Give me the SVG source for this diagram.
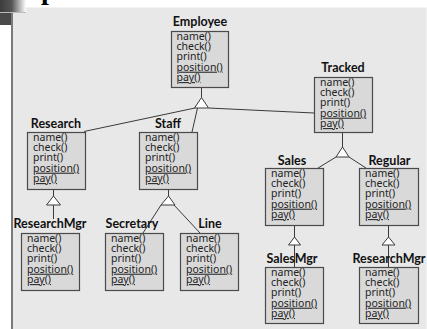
<svg xmlns="http://www.w3.org/2000/svg" width="427" height="329" viewBox="0 0 427 329">
<defs>
<linearGradient id="tl" x1="0" y1="0" x2="1" y2="0">
<stop offset="0" stop-color="#3c3c3c"/>
<stop offset="0.45" stop-color="#555"/>
<stop offset="1" stop-color="#ffffff"/>
</linearGradient>
<style>
.box{fill:#d9d9d9;stroke:#4a4a4a;stroke-width:1.2}
.lbl{font-family:Lato,"DejaVu Sans",sans-serif;font-weight:bold;font-size:12.5px;fill:#111;text-anchor:middle}
.m{font-family:"Noto Sans","DejaVu Sans",sans-serif;font-size:10.5px;fill:#222}
.u{text-decoration:underline}
.c{stroke:#3a3a3a;stroke-width:1;fill:none}
.tri{fill:#ffffff;stroke:#3a3a3a;stroke-width:1}
</style>
</defs>
<rect x="0" y="0" width="427" height="329" fill="#ffffff"/>
<rect x="12" y="7.5" width="414" height="322" fill="#e8e8e8"/>
<rect x="426" y="7.5" width="1" height="322" fill="#f1f1f1"/>
<rect x="11" y="7.5" width="2" height="322" fill="#7a7a7a"/>
<rect x="0" y="0" width="26" height="12" fill="url(#tl)"/>
<rect x="0" y="12" width="26" height="1" fill="#bbbbbb"/>
<rect x="0" y="13" width="11" height="12" fill="#4a4a4a"/>
<text x="41" y="-1" font-family="Liberation Serif,serif" font-size="28" font-weight="bold" fill="#000">p</text>

<g id="connectors">
<line class="c" x1="201.5" y1="87" x2="201.5" y2="97.5"/>
<line class="c" x1="195" y1="108" x2="84" y2="131.5"/>
<line class="c" x1="197.5" y1="108" x2="192" y2="132"/>
<line class="c" x1="208.5" y1="108" x2="314" y2="113"/>
<polygon class="tri" points="201.5,97.5 194.5,108 208.5,108"/>

<line class="c" x1="53.5" y1="189" x2="53.5" y2="196"/>
<polygon class="tri" points="53.5,196 46.5,205 60.5,205"/>
<line class="c" x1="53.5" y1="205" x2="53.5" y2="219"/>

<line class="c" x1="168.5" y1="189" x2="168.5" y2="196"/>
<line class="c" x1="161" y1="205" x2="143" y2="233"/>
<line class="c" x1="174" y1="205" x2="200" y2="233"/>
<polygon class="tri" points="168.5,196 161,205 175,205"/>

<line class="c" x1="342.5" y1="132" x2="342.5" y2="147"/>
<line class="c" x1="336" y1="157" x2="318" y2="168"/>
<line class="c" x1="349" y1="157" x2="366" y2="168"/>
<polygon class="tri" points="342.5,147 336,157 349,157"/>

<line class="c" x1="294.5" y1="225" x2="294.5" y2="237"/>
<polygon class="tri" points="294.5,237 288.5,245 300.5,245"/>
<line class="c" x1="294.5" y1="245" x2="294.5" y2="267"/>

<line class="c" x1="388.5" y1="225" x2="388.5" y2="237"/>
<polygon class="tri" points="388.5,237 382,245 395,245"/>
<line class="c" x1="388.5" y1="245" x2="388.5" y2="267"/>
</g>

<g id="employee">
<text class="lbl" x="200" y="26">Employee</text>
<rect class="box" x="171.5" y="31.5" width="57" height="56"/>
<text class="m" x="176.5" y="39.5">name()</text>
<text class="m" x="176.5" y="49.9">check()</text>
<text class="m" x="176.5" y="60.3">print()</text>
<text class="m u" x="176.5" y="70.7">position()</text>
<text class="m u" x="176.5" y="81.1">pay()</text>
</g>

<g id="tracked">
<text class="lbl" x="343" y="72">Tracked</text>
<rect class="box" x="314.5" y="77.5" width="58" height="55"/>
<text class="m" x="320" y="85.5">name()</text>
<text class="m" x="320" y="95.9">check()</text>
<text class="m" x="320" y="106.3">print()</text>
<text class="m u" x="320" y="116.7">position()</text>
<text class="m u" x="320" y="127.1">pay()</text>
</g>

<g id="research">
<text class="lbl" x="56" y="128">Research</text>
<rect class="box" x="27.5" y="132.5" width="58" height="57"/>
<text class="m" x="33" y="140.5">name()</text>
<text class="m" x="33" y="150.9">check()</text>
<text class="m" x="33" y="161.3">print()</text>
<text class="m u" x="33" y="171.7">position()</text>
<text class="m u" x="33" y="182.1">pay()</text>
</g>

<g id="staff">
<text class="lbl" x="168" y="128">Staff</text>
<rect class="box" x="139.5" y="132.5" width="58" height="57"/>
<text class="m" x="145" y="140.5">name()</text>
<text class="m" x="145" y="150.9">check()</text>
<text class="m" x="145" y="161.3">print()</text>
<text class="m u" x="145" y="171.7">position()</text>
<text class="m u" x="145" y="182.1">pay()</text>
</g>

<g id="sales">
<text class="lbl" x="292" y="164.5">Sales</text>
<rect class="box" x="265.5" y="168.5" width="58" height="57"/>
<text class="m" x="271" y="176.5">name()</text>
<text class="m" x="271" y="186.9">check()</text>
<text class="m" x="271" y="197.3">print()</text>
<text class="m u" x="271" y="207.7">position()</text>
<text class="m u" x="271" y="218.1">pay()</text>
</g>

<g id="regular">
<text class="lbl" x="389.5" y="164.5">Regular</text>
<rect class="box" x="359.5" y="168.5" width="59" height="57"/>
<text class="m" x="365" y="176.5">name()</text>
<text class="m" x="365" y="186.9">check()</text>
<text class="m" x="365" y="197.3">print()</text>
<text class="m u" x="365" y="207.7">position()</text>
<text class="m u" x="365" y="218.1">pay()</text>
</g>

<g id="researchmgr1">
<text class="lbl" x="50" y="228">ResearchMgr</text>
<rect class="box" x="21.5" y="233.5" width="58" height="57"/>
<text class="m" x="27" y="241.5">name()</text>
<text class="m" x="27" y="251.9">check()</text>
<text class="m" x="27" y="262.3">print()</text>
<text class="m u" x="27" y="272.7">position()</text>
<text class="m u" x="27" y="283.1">pay()</text>
</g>

<g id="secretary">
<text class="lbl" x="132" y="228">Secretary</text>
<rect class="box" x="105.5" y="233.5" width="58" height="57"/>
<text class="m" x="111" y="241.5">name()</text>
<text class="m" x="111" y="251.9">check()</text>
<text class="m" x="111" y="262.3">print()</text>
<text class="m u" x="111" y="272.7">position()</text>
<text class="m u" x="111" y="283.1">pay()</text>
</g>

<g id="line">
<text class="lbl" x="210" y="228">Line</text>
<rect class="box" x="180.5" y="233.5" width="58" height="57"/>
<text class="m" x="186" y="241.5">name()</text>
<text class="m" x="186" y="251.9">check()</text>
<text class="m" x="186" y="262.3">print()</text>
<text class="m u" x="186" y="272.7">position()</text>
<text class="m u" x="186" y="283.1">pay()</text>
</g>

<g id="salesmgr">
<text class="lbl" x="292" y="263">SalesMgr</text>
<rect class="box" x="265.5" y="267.5" width="58" height="56"/>
<text class="m" x="271" y="275.5">name()</text>
<text class="m" x="271" y="285.9">check()</text>
<text class="m" x="271" y="296.3">print()</text>
<text class="m u" x="271" y="306.7">position()</text>
<text class="m u" x="271" y="317.1">pay()</text>
</g>

<g id="researchmgr2">
<text class="lbl" x="389" y="263">ResearchMgr</text>
<rect class="box" x="359.5" y="267.5" width="59" height="56"/>
<text class="m" x="365" y="275.5">name()</text>
<text class="m" x="365" y="285.9">check()</text>
<text class="m" x="365" y="296.3">print()</text>
<text class="m u" x="365" y="306.7">position()</text>
<text class="m u" x="365" y="317.1">pay()</text>
</g>
</svg>
